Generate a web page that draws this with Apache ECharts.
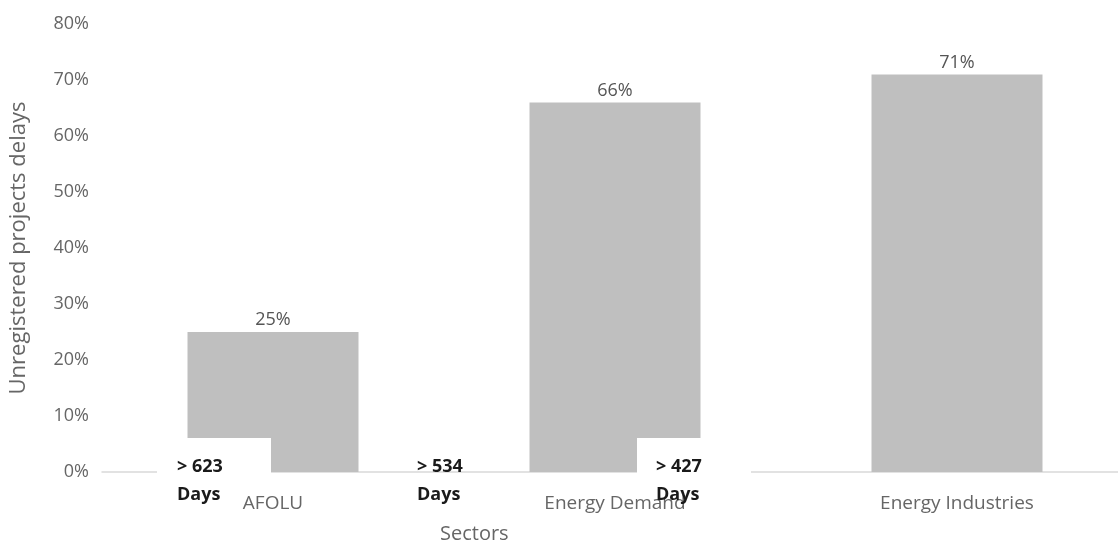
<!DOCTYPE html>
<html><head><meta charset="utf-8">
<script src="https://cdn.jsdelivr.net/npm/echarts@6/dist/echarts.min.js"></script>
<style>html,body{margin:0;padding:0;background:#fff}#c{width:1118px;height:544px}</style>
</head><body><div id="c"></div>
<script>
var categories = ['AFOLU', 'Energy Demand', 'Energy Industries'];
var values = [25, 66, 71];
var dayLabels = ['> 623', '> 534', '> 427'];
var dayUnit = 'Days';
var xName = 'Sectors';
var yName = 'Unregistered projects delays';

var FONT = '"Open Sans", "Liberation Sans", sans-serif';
var chart = echarts.init(document.getElementById('c'));
chart.setOption({
  animation: false,
  backgroundColor: '#fff',
  grid: { left: 102, width: 1026, top: 24, bottom: 72, outerBoundsMode: 'none', containLabel: false },
  xAxis: {
    type: 'category', data: categories,
    axisLine: { lineStyle: { color: '#d9d9d9', width: 1.5 } },
    axisTick: { show: false },
    axisLabel: { color: '#666', fontSize: 19, fontFamily: FONT, margin: 22 }
  },
  yAxis: {
    type: 'value', min: 0, max: 80, interval: 10,
    name: yName, nameLocation: 'middle', nameGap: 72, nameRotate: 90,
    nameTextStyle: { color: '#666', fontSize: 22, fontFamily: FONT },
    splitLine: { show: false },
    axisLine: { show: false }, axisTick: { show: false },
    axisLabel: { color: '#666', fontSize: 18, fontFamily: FONT, margin: 13, formatter: '{value}%' }
  },
  series: [{
    type: 'bar', data: values, barWidth: '50%',
    itemStyle: { color: '#bfbfbf' },
    label: { show: true, position: 'top', distance: 3, formatter: '{c}%', color: '#555', fontSize: 18, fontFamily: FONT }
  }]
});

var c0 = chart.convertToPixel({ xAxisIndex: 0 }, categories[0]);
var c1 = chart.convertToPixel({ xAxisIndex: 0 }, categories[1]);
var y0 = chart.convertToPixel({ yAxisIndex: 0 }, 0);
var txtStyle = function (t) {
  return { text: t + '\n' + dayUnit, fill: '#1a1a1a', font: 'bold 18px ' + FONT, lineHeight: 28 };
};
chart.setOption({
  graphic: [
    { type: 'rect', z: 100, left: c0 - 116, top: y0 - 34, shape: { width: 114, height: 46 }, style: { fill: '#fff' } },
    { type: 'rect', z: 100, left: c1 + 22, top: y0 - 34, shape: { width: 114, height: 46 }, style: { fill: '#fff' } },
    { type: 'text', z: 101, left: c0 - 96, top: y0 - 19, style: txtStyle(dayLabels[0]) },
    { type: 'text', z: 101, left: c1 - 198, top: y0 - 19, style: txtStyle(dayLabels[1]) },
    { type: 'text', z: 101, left: c1 + 41, top: y0 - 19, style: txtStyle(dayLabels[2]) },
    { type: 'text', z: 101, left: 440, top: 524, style: { text: xName, fill: '#666', font: '20px ' + FONT } }
  ]
});
</script></body></html>
